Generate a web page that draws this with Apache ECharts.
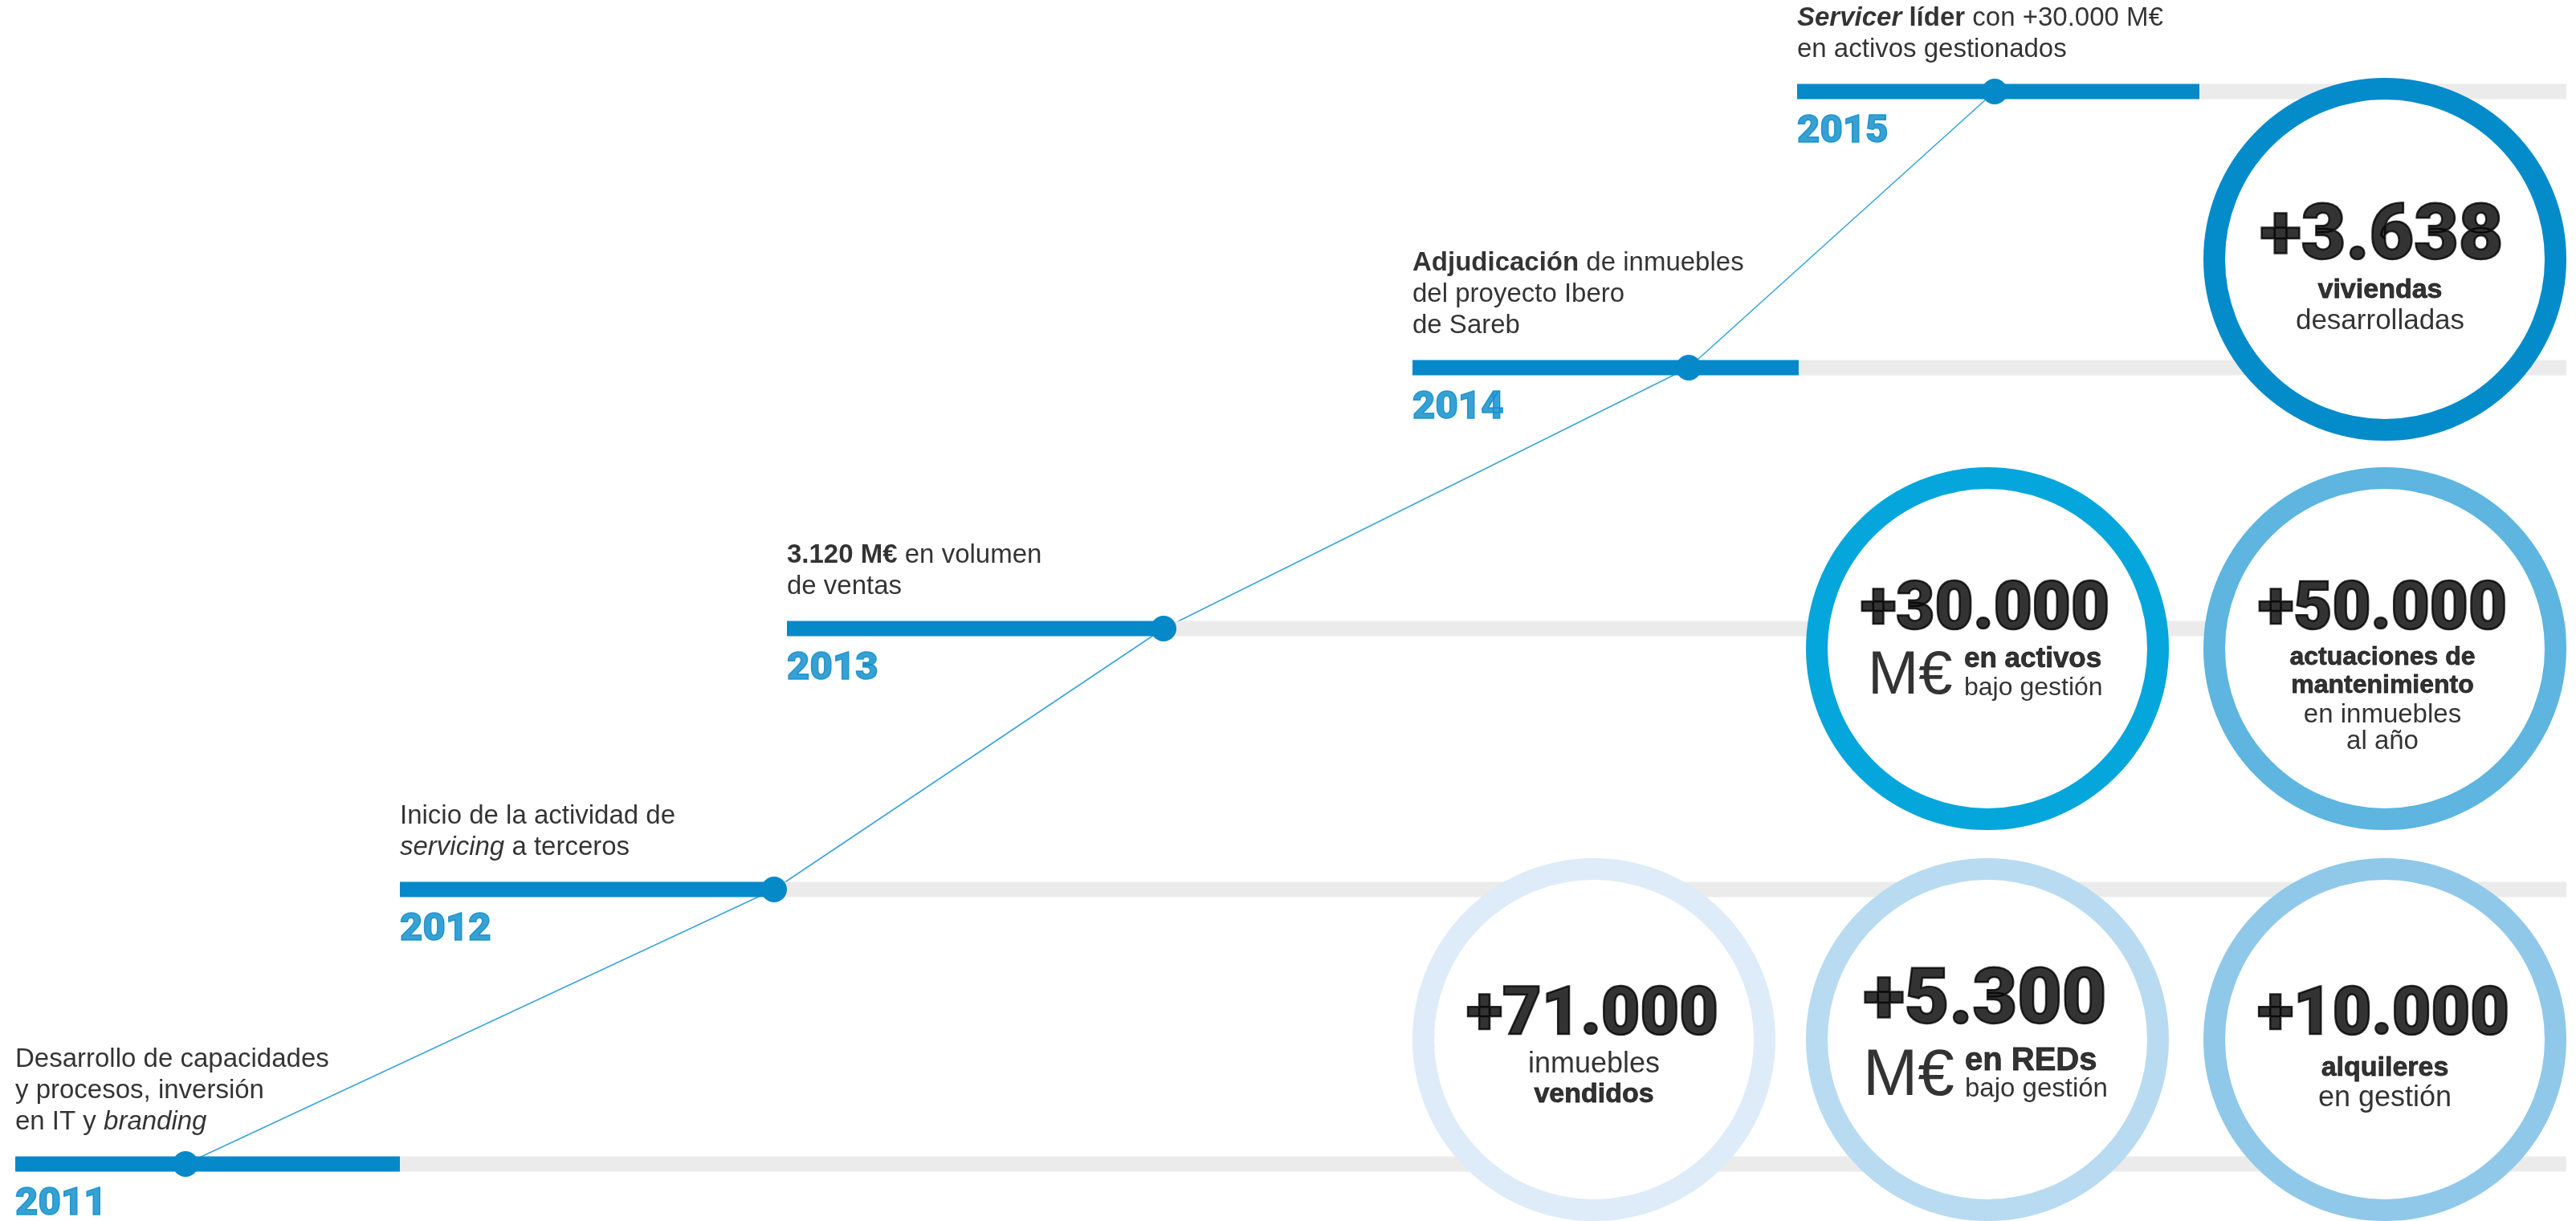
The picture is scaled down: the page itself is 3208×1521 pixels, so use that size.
<!DOCTYPE html>
<html>
<head>
<meta charset="utf-8">
<script src="https://cdn.jsdelivr.net/npm/echarts@6/dist/echarts.min.js"></script>
<style>
html,body{margin:0;padding:0;background:#fff;}
#chart{width:3208px;height:1521px;}
</style>
</head>
<body>
<div id="chart"></div>
<script>
// ---------- DATA ----------
const years = ['2011', '2012', '2013', '2014', '2015'];
const milestoneText = [
  '{r|Desarrollo de capacidades}\n{r|y procesos, inversión}\n{r|en IT y }{i|branding}',
  '{r|Inicio de la actividad de}\n{i|servicing}{r| a terceros}',
  '{b|3.120 M€}{r| en volumen}\n{r|de ventas}',
  '{b|Adjudicación}{r| de inmuebles}\n{r|del proyecto Ibero}\n{r|de Sareb}',
  '{bi|Servicer}{b| líder}{r| con +30.000 M€}\n{r|en activos gestionados}'
];
// timeline track (horizontal scale units) and row level (vertical scale units)
const barStart = [19, 498, 980, 1759, 2238];
const barEnd   = [498, 964, 1449, 2240, 2739];
const dotX     = [231, 964, 1449, 2103, 2484];
const rowLevel = [1450, 1108, 783, 458, 114];
const trackEnd = 3196;

const statValues = ['+3.638', '+30.000', '+50.000', '+71.000', '+5.300', '+10.000'];
const statCaptions = [
  ['b:viviendas', 'r:desarrolladas'],
  ['b:en activos', 'r:bajo gestión'],
  ['b:actuaciones de', 'b:mantenimiento', 'r:en inmuebles', 'r:al año'],
  ['r:inmuebles', 'b:vendidos'],
  ['b:en REDs', 'r:bajo gestión'],
  ['b:alquileres', 'r:en gestión']
];
const statUnit = ['', 'M€', '', '', 'M€', ''];
const statX = [2970, 2475, 2970, 1985, 2475, 2970];
const statY = [323, 808, 808, 1295, 1295, 1295];

// ---------- STYLE ----------
const BLUE = '#0589c9';
const GRAY = '#ebebeb';
const LINE = '#3aa4dc';
const ringColors = ['#048bca', '#05a6db', '#5db5e0', '#ddecf8', '#b8dbf1', '#90c8ea'];
const FONT = "'Liberation Sans', Arial, sans-serif";
const NUMFONT = "Roboto, 'Liberation Sans', sans-serif";
const MID = 0.33; // canvas 'middle' -> alphabetic baseline offset (em)

const numLayout = [[96, -4, 7], [83, -3, -18], [83, -3, -18], [84, -2, 0], [96, -3, -13], [84, -2, 0]];
const capLayout = [
  {fs: [34, 35], align: 'center', dx: -6, base: [50, 89]},
  {fs: [35, 32], align: 'left', dx: -29, base: [25, 60]},
  {fs: [32, 32, 33, 33], align: 'center', dx: -3, base: [22, 57, 94, 127]},
  {fs: [36, 34], align: 'center', dx: 0, base: [43, 80]},
  {fs: [40, 33], align: 'left', dx: -28, base: [40, 73]},
  {fs: [34, 36], align: 'center', dx: 0, base: [47, 85]}
];
const unitLayout = [null, [76, -149, 60], null, null, [82, -155, 73], null];

// ---------- BUILD ----------
const chart = echarts.init(document.getElementById('chart'), null, {renderer: 'canvas'});

const bars = [];
years.forEach((y, i) => {
  bars.push({value: [barEnd[i], rowLevel[i], trackEnd], color: GRAY});
  bars.push({value: [barStart[i], rowLevel[i], barEnd[i]], color: BLUE});
});

function textItem(x, y, text, fs, weight, align, dx, baseRel, family, stroke) {
  return {
    value: [x, y],
    label: {
      show: true, position: 'inside', formatter: text,
      fontSize: fs, fontWeight: weight, fontFamily: family || FONT, color: '#000',
      textBorderColor: '#000', textBorderWidth: stroke || 0,
      align: align, verticalAlign: 'middle', lineHeight: fs,
      offset: [dx, baseRel - MID * fs]
    }
  };
}

const TS = 33;
const texts = [];
years.forEach((y, i) => {
  texts.push({
    value: [barStart[i], rowLevel[i]],
    label: {
      show: true, position: 'inside', formatter: milestoneText[i],
      align: 'left', verticalAlign: 'bottom', offset: [0, -33],
      rich: {
        r: {fontSize: TS, lineHeight: 39, fontFamily: FONT, color: '#000'},
        i: {fontSize: TS, lineHeight: 39, fontFamily: FONT, fontStyle: 'italic', color: '#000'},
        b: {fontSize: TS, lineHeight: 39, fontFamily: FONT, fontWeight: 'bold', color: '#000'},
        bi: {fontSize: TS, lineHeight: 39, fontFamily: FONT, fontWeight: 'bold', fontStyle: 'italic', color: '#000'}
      }
    }
  });
  texts.push({
    value: [barStart[i], rowLevel[i]],
    label: {
      show: true, position: 'inside', formatter: y,
      fontSize: 49, fontWeight: 900, fontFamily: NUMFONT, color: BLUE,
      textBorderColor: BLUE, textBorderWidth: 1.5,
      align: 'left', verticalAlign: 'top', lineHeight: 49, offset: [0, 26]
    }
  });
});
statValues.forEach((v, i) => {
  const nl = numLayout[i];
  texts.push(textItem(statX[i], statY[i], v, nl[0], 900, 'center', nl[1], nl[2], NUMFONT, 2.5));
  const cl = capLayout[i];
  statCaptions[i].forEach((c, k) => {
    const bold = c.startsWith('b:');
    texts.push(textItem(statX[i], statY[i], c.slice(2), cl.fs[k], bold ? 'bold' : 'normal', cl.align, cl.dx, cl.base[k], FONT, bold ? 0.8 : 0));
  });
  if (statUnit[i]) {
    const ul = unitLayout[i];
    texts.push(textItem(statX[i], statY[i], statUnit[i], ul[0], 'normal', 'left', ul[1], ul[2]));
  }
});

const option = {
  animation: false,
  backgroundColor: '#fff',
  grid: {left: 0, right: 0, top: 0, bottom: 0},
  xAxis: {type: 'value', min: 0, max: 3208, show: false},
  yAxis: {type: 'value', min: 0, max: 1521, inverse: true, show: false},
  series: [
    {
      type: 'line', z: 1,
      data: dotX.map((x, i) => [x, rowLevel[i]]),
      showSymbol: false, symbol: 'none',
      lineStyle: {color: LINE, width: 1.6}
    },
    {
      type: 'custom', z: 2,
      data: bars,
      renderItem: function (params, api) {
        const a = api.coord([api.value(0), api.value(1)]);
        const b = api.coord([api.value(2), api.value(1)]);
        const h = 19;
        return {
          type: 'rect',
          shape: {x: a[0], y: a[1] - h / 2, width: b[0] - a[0], height: h},
          style: {fill: bars[params.dataIndex].color}
        };
      }
    },
    {
      type: 'scatter', z: 3,
      data: dotX.map((x, i) => [x, rowLevel[i]]),
      symbol: 'circle', symbolSize: 32,
      itemStyle: {color: BLUE, opacity: 1}
    },
    {
      type: 'scatter', z: 4,
      data: statValues.map((v, i) => ({value: [statX[i], statY[i]], itemStyle: {borderColor: ringColors[i]}})),
      symbol: 'circle', symbolSize: 425,
      itemStyle: {color: '#fff', borderWidth: 27, opacity: 1}
    },
    {
      type: 'scatter', z: 5,
      data: texts,
      symbolSize: 1,
      itemStyle: {color: 'rgba(0,0,0,0)'}
    }
  ]
};
chart.setOption(option);
</script>
</body>
</html>
